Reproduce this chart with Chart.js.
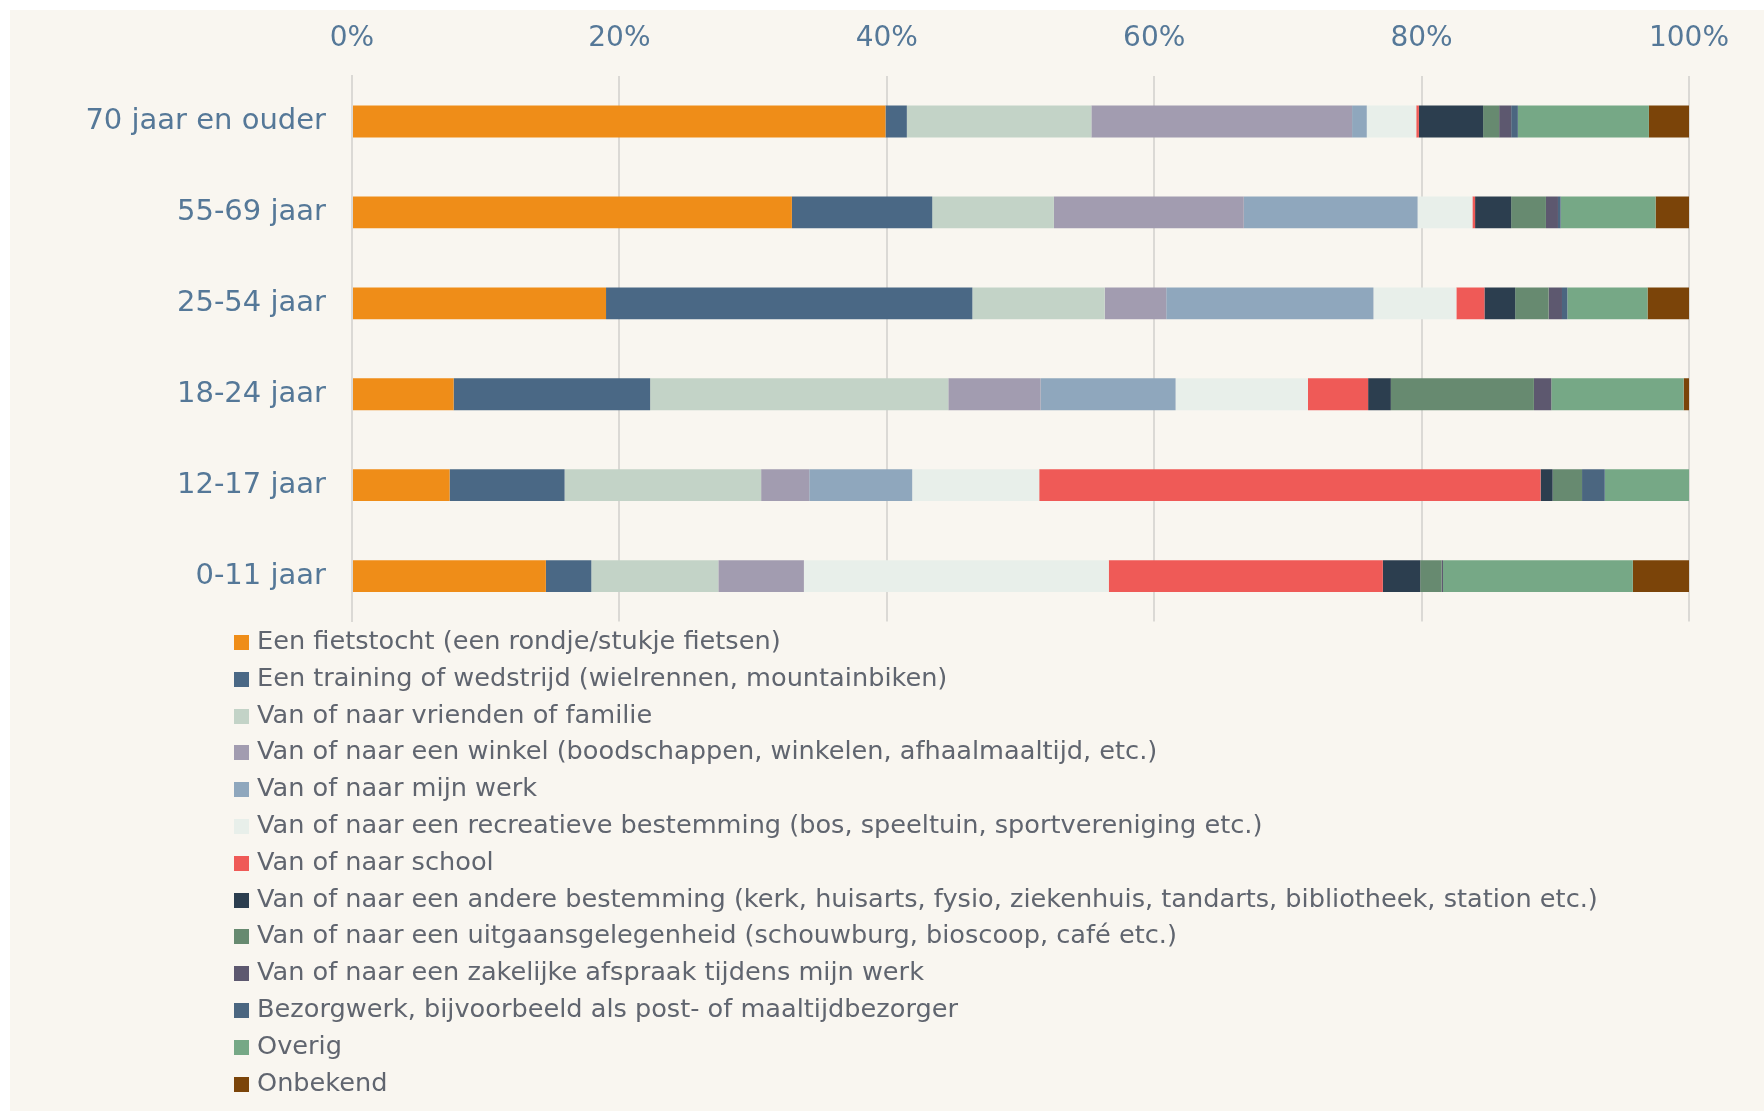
<!DOCTYPE html>
<html>
    <head>
        <meta charset="utf-8">
        <title>Fietsritten naar leeftijd</title>
        <style>
            body { margin: 0; background: #ffffff; width: 1764px; height: 1111px; overflow: hidden; position: relative; }
            .paper { position: absolute; left: 10px; top: 10px; right: 0; bottom: 0; background: #f9f6f0; }
            .chart { position: absolute; left: 0; top: 0; width: 1764px; height: 665px; }
            .legend { position: absolute; left: 234px; top: 622px; margin: 0; padding: 0; list-style: none;
                      font-family: "DejaVu Sans", sans-serif; font-size: 25.6px; color: #60656f; }
            .legend li { height: 36.8px; line-height: 36.8px; white-space: nowrap; }
            .legend .box { display: inline-block; width: 15px; height: 15px; margin-right: 8px; vertical-align: -1px; }
        </style>
    </head>
    <body>
        <div class="paper"></div>
        <div class="chart"><canvas id="bars" width="1764" height="665"></canvas></div>
        <ul class="legend" id="legend"></ul>

        <script src="https://cdn.jsdelivr.net/npm/chart.js"></script>
        <script>
            // leeftijdsgroepen (van boven naar beneden)
            const groepen = ['70 jaar en ouder', '55-69 jaar', '25-54 jaar', '18-24 jaar', '12-17 jaar', '0-11 jaar'];

            // aandeel in procenten per doel
            const fietstocht    = [39.9, 32.9, 19.0,  7.6,  7.3, 14.5];
            const training      = [ 1.6, 10.5, 27.4, 14.7,  8.6,  3.4];
            const vrienden      = [13.8,  9.1,  9.9, 22.3, 14.7,  9.5];
            const winkel        = [19.5, 14.2,  4.6,  6.9,  3.6,  6.4];
            const werk          = [ 1.1, 13.0, 15.5, 10.1,  7.7,  0.0];
            const recreatief    = [ 3.7,  4.1,  6.2,  9.9,  9.5, 22.8];
            const school        = [ 0.2,  0.2,  2.1,  4.5, 37.5, 20.5];
            const andere        = [ 4.8,  2.7,  2.3,  1.7,  0.9,  2.8];
            const uitgaan       = [ 1.2,  2.6,  2.5, 10.7,  2.2,  1.6];
            const zakelijk      = [ 0.9,  0.9,  1.0,  1.3,  0.0,  0.1];
            const bezorgwerk    = [ 0.5,  0.2,  0.4,  0.0,  1.7,  0.0];
            const overig        = [ 9.8,  7.1,  6.0,  9.9,  6.3, 14.2];
            const onbekend      = [ 3.0,  2.5,  3.1,  0.4,  0.0,  4.2];

            const reeksNamen = [
                'Een fietstocht (een rondje/stukje fietsen)',
                'Een training of wedstrijd (wielrennen, mountainbiken)',
                'Van of naar vrienden of familie',
                'Van of naar een winkel (boodschappen, winkelen, afhaalmaaltijd, etc.)',
                'Van of naar mijn werk',
                'Van of naar een recreatieve bestemming (bos, speeltuin, sportvereniging etc.)',
                'Van of naar school',
                'Van of naar een andere bestemming (kerk, huisarts, fysio, ziekenhuis, tandarts, bibliotheek, station etc.)',
                'Van of naar een uitgaansgelegenheid (schouwburg, bioscoop, café etc.)',
                'Van of naar een zakelijke afspraak tijdens mijn werk',
                'Bezorgwerk, bijvoorbeeld als post- of maaltijdbezorger',
                'Overig',
                'Onbekend'
            ];
            const reeksWaarden = [fietstocht, training, vrienden, winkel, werk, recreatief, school,
                                  andere, uitgaan, zakelijk, bezorgwerk, overig, onbekend];
            const kleuren = ['#ef8d18', '#4a6885', '#c3d3c7', '#a29cb0', '#8fa7bd', '#e8efea', '#ef5a57',
                             '#2c3e4f', '#678a70', '#5d586f', '#4b6680', '#76a886', '#7b4409'];

            const asKleur = '#557898';
            const lijnKleur = '#dbd9d5';

            let datasets = reeksNamen.map((naam, i) => ({
                label: naam,
                data: reeksWaarden[i],
                backgroundColor: kleuren[i],
                borderWidth: 0,
                barPercentage: 0.35,
                categoryPercentage: 1
            }));

            let ctx = document.querySelector('#bars').getContext('2d');
            let chart = new Chart(ctx, {
                type: 'bar',
                data: { labels: groepen, datasets: datasets },
                options: {
                    indexAxis: 'y',
                    responsive: false,
                    animation: false,
                    layout: { padding: { top: 0, left: 0, right: 75, bottom: 0 } },
                    plugins: {
                        legend: { display: false },
                        tooltip: { enabled: false }
                    },
                    scales: {
                        x: {
                            position: 'top',
                            stacked: true,
                            min: 0,
                            max: 100,
                            ticks: {
                                stepSize: 20,
                                padding: 20,
                                color: asKleur,
                                font: { family: 'DejaVu Sans', size: 28 },
                                callback: (v) => v + '%'
                            },
                            grid: { color: lijnKleur, lineWidth: 2, drawTicks: false },
                            border: { display: false },
                            afterFit: (s) => { s.height = 76; }
                        },
                        y: {
                            stacked: true,
                            ticks: {
                                padding: 26,
                                color: asKleur,
                                font: { family: 'DejaVu Sans', size: 29 }
                            },
                            grid: { display: false, drawTicks: false },
                            border: { display: true, color: lijnKleur, width: 2 },
                            afterFit: (s) => { s.width = 352; }
                        }
                    }
                }
            });

            // Legenda als lijst onder de grafiek
            let legend = document.querySelector('#legend');
            chart.data.datasets.forEach((ds) => {
                let li = document.createElement('li');
                let box = document.createElement('span');
                box.className = 'box';
                box.style.background = ds.backgroundColor;
                li.appendChild(box);
                li.appendChild(document.createTextNode(ds.label));
                legend.appendChild(li);
            });
        </script>
    </body>
</html>
